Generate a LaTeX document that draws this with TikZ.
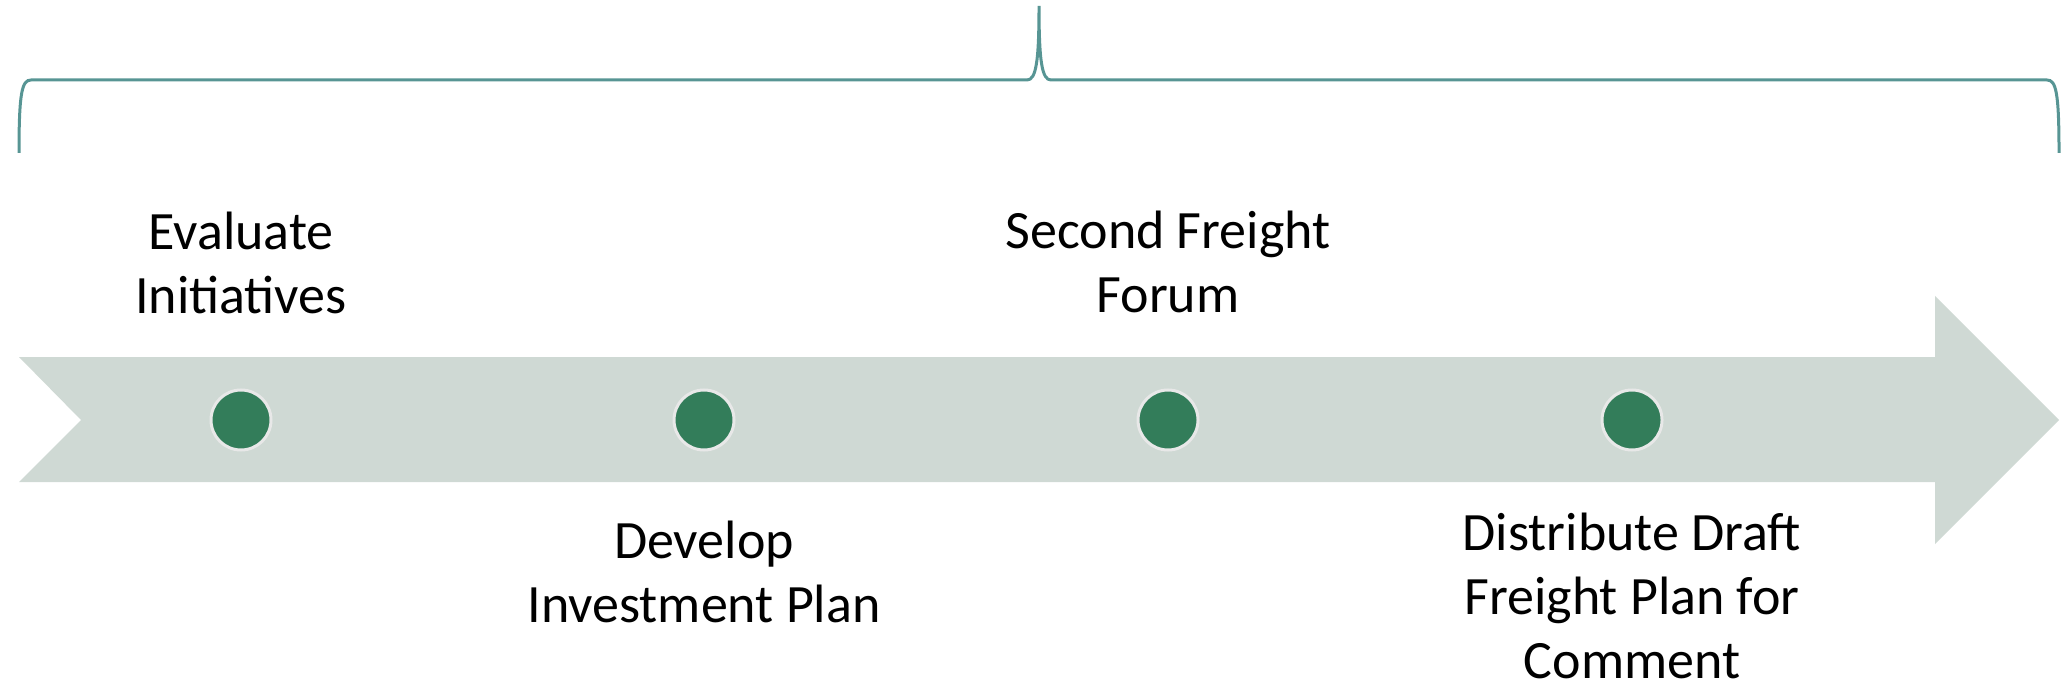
\documentclass[tikz,border=0pt]{standalone}
\usepackage{fontspec}
\setmainfont{Carlito}
\newfontfamily\stepfont{Carlito}
\usetikzlibrary{positioning}

\definecolor{bandgray}{RGB}{207,217,212}
\definecolor{dotgreen}{RGB}{51,125,90}
\definecolor{dotrim}{RGB}{232,232,232}
\definecolor{braceteal}{RGB}{87,149,148}

\tikzset{
  milestone/.style={circle, fill=dotgreen, draw=dotrim, line width=1.5pt, minimum size=30pt, inner sep=0pt},
  steplabel/.style={font=\stepfont\fontsize{27}{32}\selectfont, align=center, inner sep=0pt, anchor=base}
}

\begin{document}
\begin{tikzpicture}[x=0.5pt, y=-0.5pt]
                  \useasboundingbox (0,0) rectangle (2064,689);

                  % Define points
                  \coordinate (B1) at (19,153);
                  \coordinate (B2) at (1039,6);
                  \coordinate (B3) at (2059,153);

                  % Draw band arrow
                  \fill[bandgray] (19,357) -- (1935,357) -- (1935,296) -- (2059,420) -- (1935,544)
                        -- (1935,482) -- (19,482) -- (81,420) -- cycle;

                  % Draw brace
                  \draw[braceteal, line width=1.5pt] (B1) .. controls (19,92) and (22,80) .. (31,80) -- (1027,80)
                        .. controls (1036,80) and (1039,62) .. (B2)
                        .. controls (1039,62) and (1042,80) .. (1051,80) -- (2047,80)
                        .. controls (2056,80) and (2059,92) .. (B3);

                  % Milestones
                  \node[milestone] (m1) at (241,420) {};
                  \node[milestone] (m2) at (704,420) {};
                  \node[milestone] (m3) at (1168,420) {};
                  \node[milestone] (m4) at (1632,420) {};

                  % Labels (last baseline at the coordinate)
                  \node[steplabel] (t1) at (241,314) {Evaluate\\Initiatives};
                  \node[steplabel] (t2) at (704,622) {Develop\\Investment Plan};
                  \node[steplabel] (t3) at (1168,313) {Second Freight\\Forum};
                  \node[steplabel] (t4) at (1632,678) {Distribute Draft\\Freight Plan for\\Comment};

              \end{tikzpicture}
\end{document}
